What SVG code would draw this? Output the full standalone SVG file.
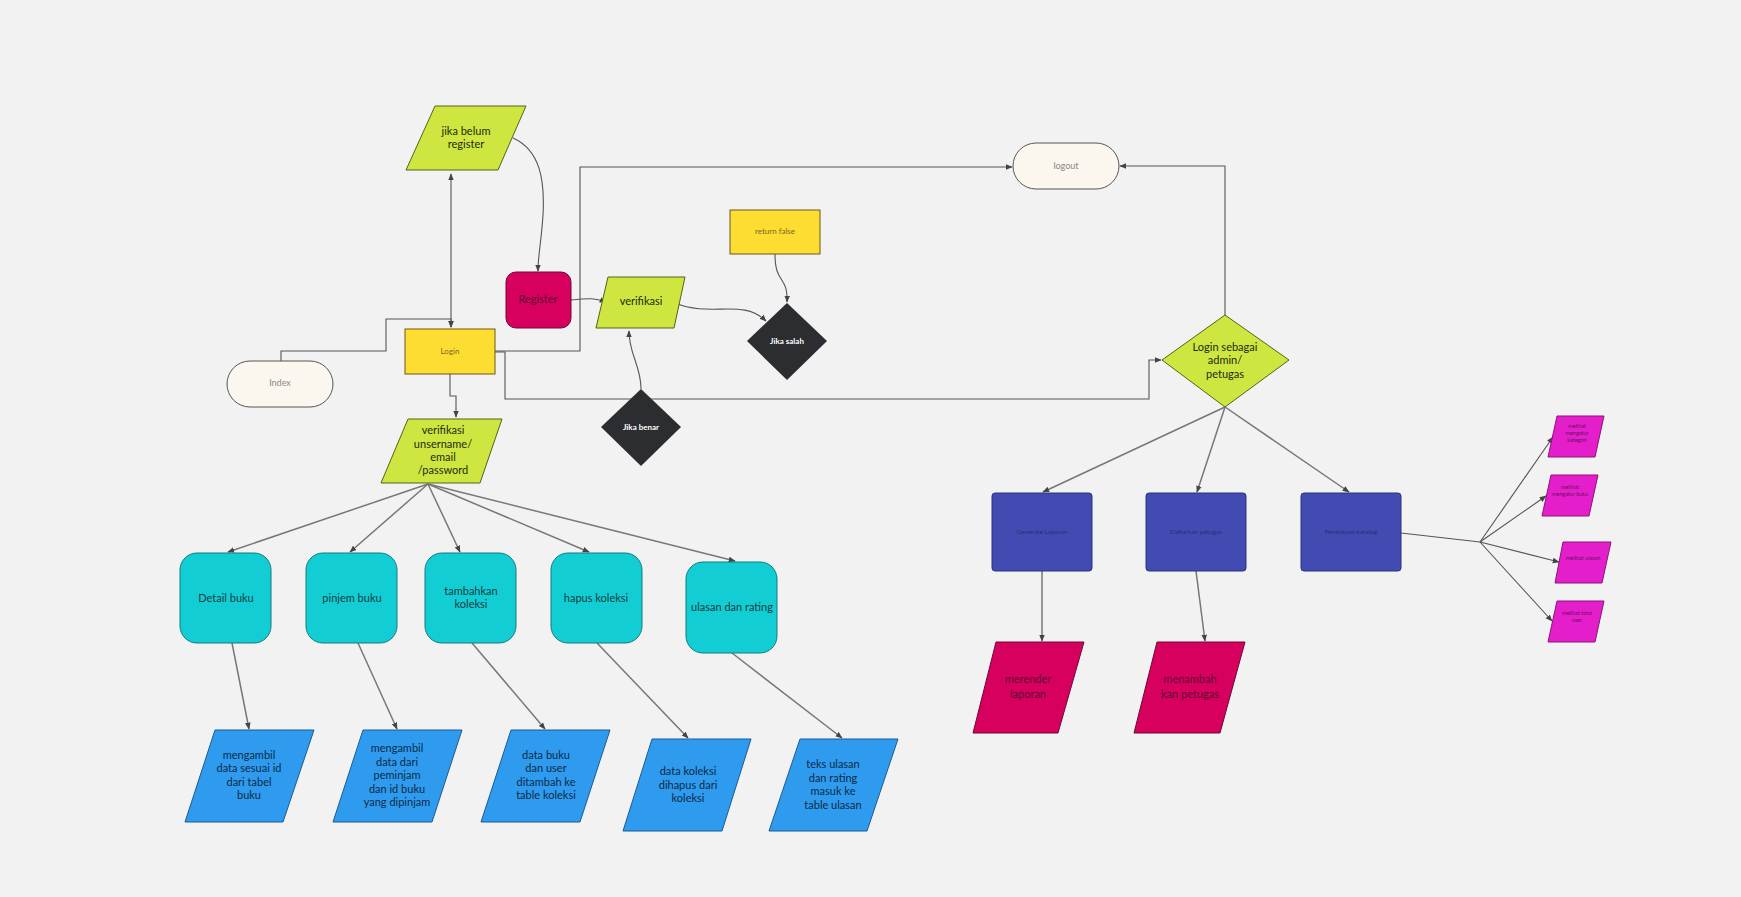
<svg xmlns="http://www.w3.org/2000/svg" width="1741" height="897" viewBox="0 0 1741 897">
  <defs>
    <marker id="arr" viewBox="0 0 10 10" refX="9" refY="5" markerWidth="7" markerHeight="7" markerUnits="userSpaceOnUse" orient="auto-start-reverse">
      <path d="M0,1 L10,5 L0,9 Z" fill="#444"/>
    </marker>
    <style>
      text { font-family: Lato, "Open Sans", "Noto Sans", sans-serif; text-anchor: middle; dominant-baseline: middle; }
      .wire { fill: none; stroke: #555; stroke-width: 1.1; }
      .wire2 { fill: none; stroke: #777; stroke-width: 1.5; }
      .lime { fill: #cfe640; stroke: #56621a; stroke-width: 1; }
      .yel { fill: #fedd33; stroke: #6a5b14; stroke-width: 1; }
      .crim { fill: #d8005f; stroke: #6a0b33; stroke-width: 1; }
      .dark { fill: #2c2d31; }
      .pill { fill: #fcf7ee; stroke: #555; stroke-width: 1; }
      .teal { fill: #12ced4; stroke: #137a7c; stroke-width: 1; }
      .blue { fill: #2e9bef; stroke: #1c5b95; stroke-width: 1; }
      .purp { fill: #414bb2; stroke: #2c3280; stroke-width: 1; }
      .mag { fill: #e51ecb; stroke: #8a1478; stroke-width: 1; }
      .t13 { font-size: 11px; fill: #1d2a10; }
      .tb { font-size: 11px; fill: #0d2a45; }
      .tt { font-size: 11px; fill: #143c3e; }
      .tsm { font-size: 8px; fill: #7a6620; }
      .tgr { font-size: 9px; fill: #8a8a8a; }
      .tw { font-size: 8px; fill: #ffffff; font-weight: bold; }
      .tp { font-size: 6.5px; fill: #2a2f74; }
      .tm { font-size: 5.5px; fill: #6a1060; }
      .tc { font-size: 11px; fill: #5a0d30; }
    </style>
  </defs>

  <rect width="1741" height="897" fill="#f2f2f2"/>

  <!-- connectors -->
  <g id="connectors">
    <!-- Index to Login -->
    <path class="wire" d="M281,361 V351 H386 V319 H451 V327" marker-end="url(#arr)"/>
    <!-- jika belum register <-> Login -->
    <path class="wire" d="M451,174 V327" marker-start="url(#arr)" marker-end="url(#arr)"/>
    <!-- jika belum register to Register -->
    <path class="wire" d="M513,138 C540,150 545,180 543,215 C541,245 538,255 538,271" marker-end="url(#arr)"/>
    <!-- Register to verifikasi -->
    <path class="wire" d="M571,300 C590,298 595,298 606,302" marker-end="url(#arr)"/>
    <!-- verifikasi to jika salah -->
    <path class="wire" d="M675,303 C712,318 742,298 766,321" marker-end="url(#arr)"/>
    <!-- return false to jika salah -->
    <path class="wire" d="M775,254 C775,285 788,275 787,302" marker-end="url(#arr)"/>
    <!-- jika benar to verifikasi -->
    <path class="wire" d="M641,389 C641,365 629,355 629,331" marker-end="url(#arr)"/>
    <!-- Login to logout -->
    <path class="wire" d="M495,351 H580 V167 H1012" marker-end="url(#arr)"/>
    <!-- Login to admin check -->
    <path class="wire" d="M495,352 H505 V399 H1149 V360 H1161" marker-end="url(#arr)"/>
    <!-- admin check to logout -->
    <path class="wire" d="M1225,315 V166 H1120" marker-end="url(#arr)"/>
    <!-- Login to verifikasi username -->
    <path class="wire" d="M450,374 V396 H456 V417" marker-end="url(#arr)"/>

    <!-- verifikasi username fan-out -->
    <path class="wire2" d="M428,484 L228,552" marker-end="url(#arr)"/>
    <path class="wire2" d="M428,484 L350,552" marker-end="url(#arr)"/>
    <path class="wire2" d="M428,484 L460,552" marker-end="url(#arr)"/>
    <path class="wire2" d="M428,484 L589,552" marker-end="url(#arr)"/>
    <path class="wire2" d="M428,484 L735,561" marker-end="url(#arr)"/>

    <!-- actions to results -->
    <path class="wire2" d="M232,643 L249,729" marker-end="url(#arr)"/>
    <path class="wire2" d="M358,643 L397,729" marker-end="url(#arr)"/>
    <path class="wire2" d="M472,643 L545,729" marker-end="url(#arr)"/>
    <path class="wire2" d="M597,643 L688,738" marker-end="url(#arr)"/>
    <path class="wire2" d="M732,653 L842,738" marker-end="url(#arr)"/>

    <!-- admin fan-out -->
    <path class="wire2" d="M1225,407 L1043,492" marker-end="url(#arr)"/>
    <path class="wire2" d="M1225,407 L1197,492" marker-end="url(#arr)"/>
    <path class="wire2" d="M1225,407 L1349,492" marker-end="url(#arr)"/>

    <path class="wire2" d="M1042,571 L1042,641" marker-end="url(#arr)"/>
    <path class="wire2" d="M1196,571 L1205,641" marker-end="url(#arr)"/>

    <!-- catalogue menu -->
    <path class="wire" d="M1401,533 L1480,542" stroke-width="1.6"/>
    <path class="wire" d="M1480,542 L1553,437" marker-end="url(#arr)"/>
    <path class="wire" d="M1480,542 L1546,496" marker-end="url(#arr)"/>
    <path class="wire" d="M1480,542 L1559,562" marker-end="url(#arr)"/>
    <path class="wire" d="M1480,542 L1552,621" marker-end="url(#arr)"/>
  </g>

  <!-- top flow -->
  <g id="belum-register">
    <polygon class="lime" points="435,106 526,106 498,170 406,170"/>
    <text class="t13" x="466" y="132">jika belum</text>
    <text class="t13" x="466" y="145">register</text>
  </g>
  <g id="register">
    <rect class="crim" x="506" y="272" width="65" height="56" rx="10"/>
    <text class="tc" x="538" y="300">Register</text>
  </g>
  <g id="verifikasi">
    <polygon class="lime" points="608,277 685,277 674,328 596,328"/>
    <text class="t13" x="641" y="302">verifikasi</text>
  </g>
  <g id="return-false">
    <rect class="yel" x="730" y="210" width="90" height="44"/>
    <text class="tsm" x="775" y="232" font-size="7.5">return false</text>
  </g>
  <g id="jika-salah">
    <polygon class="dark" points="787,303 827,341 787,380 747,341"/>
    <text class="tw" x="787" y="342">Jika salah</text>
  </g>
  <g id="index">
    <rect class="pill" x="227" y="361" width="106" height="46" rx="23"/>
    <text class="tgr" x="280" y="384">Index</text>
  </g>
  <g id="login">
    <rect class="yel" x="405" y="329" width="90" height="45"/>
    <text class="tsm" x="450" y="352">Login</text>
  </g>
  <g id="jika-benar">
    <polygon class="dark" points="641,389 681,427 641,466 601,427"/>
    <text class="tw" x="641" y="428">Jika benar</text>
  </g>
  <g id="logout">
    <rect class="pill" x="1013" y="143" width="106" height="46" rx="23"/>
    <text class="tgr" x="1066" y="167">logout</text>
  </g>
  <g id="verifikasi-username">
    <polygon class="lime" points="408,419 502,419 480,483 381,483"/>
    <text class="t13" x="443" y="431">verifikasi</text>
    <text class="t13" x="443" y="445">unsername/</text>
    <text class="t13" x="443" y="458">email</text>
    <text class="t13" x="443" y="471">/password</text>
  </g>

  <!-- user actions -->
  <g id="detail-buku">
    <rect class="teal" x="180" y="553" width="91" height="90" rx="17"/>
    <text class="tt" x="226" y="599">Detail buku</text>
  </g>
  <g id="pinjem-buku">
    <rect class="teal" x="306" y="553" width="91" height="90" rx="17"/>
    <text class="tt" x="352" y="599">pinjem buku</text>
  </g>
  <g id="tambahkan-koleksi">
    <rect class="teal" x="425" y="553" width="91" height="90" rx="17"/>
    <text class="tt" x="471" y="592">tambahkan</text>
    <text class="tt" x="471" y="605">koleksi</text>
  </g>
  <g id="hapus-koleksi">
    <rect class="teal" x="551" y="553" width="91" height="90" rx="17"/>
    <text class="tt" x="596" y="599">hapus koleksi</text>
  </g>
  <g id="ulasan-rating">
    <rect class="teal" x="686" y="562" width="91" height="91" rx="17"/>
    <text class="tt" x="732" y="608">ulasan dan rating</text>
  </g>

  <!-- data results -->
  <g id="hasil-detail">
    <polygon class="blue" points="215,730 314,730 283,822 185,822"/>
    <text class="tb" x="249" y="756">mengambil</text>
    <text class="tb" x="249" y="769">data sesuai id</text>
    <text class="tb" x="249" y="783">dari tabel</text>
    <text class="tb" x="249" y="796">buku</text>
  </g>
  <g id="hasil-pinjem">
    <polygon class="blue" points="363,730 462,730 432,822 333,822"/>
    <text class="tb" x="397" y="749">mengambil</text>
    <text class="tb" x="397" y="763">data dari</text>
    <text class="tb" x="397" y="776">peminjam</text>
    <text class="tb" x="397" y="790">dan id buku</text>
    <text class="tb" x="397" y="803">yang dipinjam</text>
  </g>
  <g id="hasil-tambah">
    <polygon class="blue" points="511,730 610,730 580,822 481,822"/>
    <text class="tb" x="546" y="756">data buku</text>
    <text class="tb" x="546" y="769">dan user</text>
    <text class="tb" x="546" y="783">ditambah ke</text>
    <text class="tb" x="546" y="796">table koleksi</text>
  </g>
  <g id="hasil-hapus">
    <polygon class="blue" points="652,739 751,739 722,831 623,831"/>
    <text class="tb" x="688" y="772">data koleksi</text>
    <text class="tb" x="688" y="786">dihapus dari</text>
    <text class="tb" x="688" y="799">koleksi</text>
  </g>
  <g id="hasil-ulasan">
    <polygon class="blue" points="800,739 898,739 867,831 769,831"/>
    <text class="tb" x="833" y="765">teks ulasan</text>
    <text class="tb" x="833" y="779">dan rating</text>
    <text class="tb" x="833" y="792">masuk ke</text>
    <text class="tb" x="833" y="806">table ulasan</text>
  </g>

  <!-- admin side -->
  <g id="login-admin">
    <polygon class="lime" points="1225,315 1289,360 1225,407 1162,360"/>
    <text class="t13" x="1225" y="348">Login sebagai</text>
    <text class="t13" x="1225" y="361">admin/</text>
    <text class="t13" x="1225" y="375">petugas</text>
  </g>
  <g id="generate-laporan">
    <rect class="purp" x="992" y="493" width="100" height="78" rx="3"/>
    <text class="tp" x="1042" y="532">Generate Laporan</text>
  </g>
  <g id="daftarkan-petugas">
    <rect class="purp" x="1146" y="493" width="100" height="78" rx="3"/>
    <text class="tp" x="1196" y="532">Daftarkan petugas</text>
  </g>
  <g id="pendataan-katalog">
    <rect class="purp" x="1301" y="493" width="100" height="78" rx="3"/>
    <text class="tp" x="1351" y="532">Pendataan katalog</text>
  </g>
  <g id="merender-laporan">
    <polygon class="crim" points="996,642 1084,642 1058,733 973,733"/>
    <text class="tc" x="1028" y="680">merender</text>
    <text class="tc" x="1028" y="695">laporan</text>
  </g>
  <g id="menambah-petugas">
    <polygon class="crim" points="1157,642 1245,642 1220,733 1134,733"/>
    <text class="tc" x="1190" y="680">menambah</text>
    <text class="tc" x="1190" y="695">kan petugas</text>
  </g>
  <g id="kategori">
    <polygon class="mag" points="1557,416 1604,416 1595,457 1548,457"/>
    <text class="tm" x="1577" y="427">melihat</text>
    <text class="tm" x="1577" y="434">mengatur</text>
    <text class="tm" x="1577" y="441">kategori</text>
  </g>
  <g id="buku">
    <polygon class="mag" points="1551,475 1598,475 1589,516 1542,516"/>
    <text class="tm" x="1570" y="488">melihat</text>
    <text class="tm" x="1570" y="495">mengatur buku</text>
  </g>
  <g id="ulasan">
    <polygon class="mag" points="1563,542 1611,542 1602,583 1555,583"/>
    <text class="tm" x="1583" y="559">melihat ulasan</text>
  </g>
  <g id="total-user">
    <polygon class="mag" points="1557,601 1604,601 1595,642 1548,642"/>
    <text class="tm" x="1577" y="614">melihat total</text>
    <text class="tm" x="1577" y="621">user</text>
  </g>
</svg>
